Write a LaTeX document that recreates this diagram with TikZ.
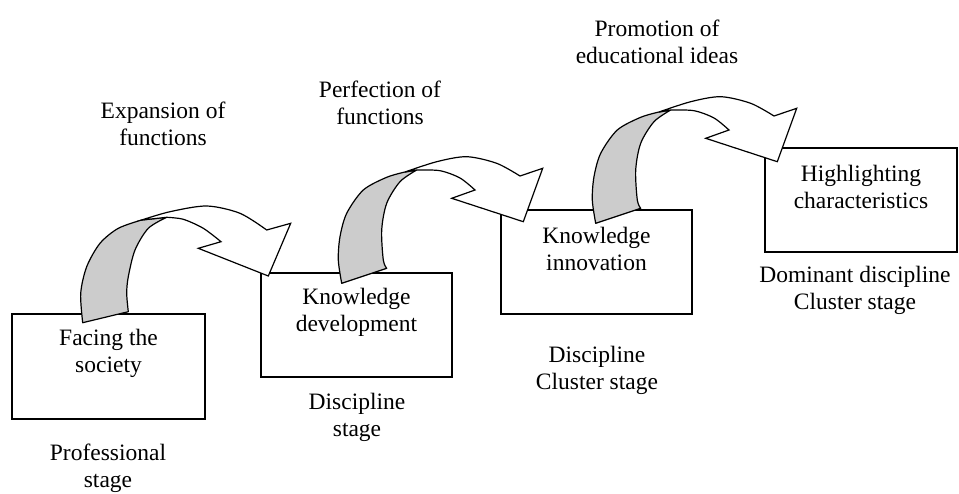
\documentclass[tikz,border=0pt]{standalone}
\usepackage{fontspec}
\setmainfont{Liberation Serif}
\usetikzlibrary{calc}
\definecolor{bandgrey}{RGB}{204,204,204}
\newcommand{\drawRibbonTwo}{%
  \filldraw[bandface]
    plot[smooth] coordinates {(341.7,283.3) (338.3,260) (340,236.7) (346.7,213.3) (363.3,190) (386.7,177.3) (405,172)}
    -- (416.7,170)
    -- plot[smooth] coordinates {(416.7,170) (400,181.7) (386.7,203.3) (381.7,230) (383.3,260) (386.7,268.3)}
    -- cycle;
  \filldraw[ribbonface]
    plot[smooth] coordinates {(405,172) (436.7,161.7) (466.7,156.7) (496.7,163.3) (520,176)}
    -- (542.7,168.3) -- (523.3,221.7) -- (451.7,198.3) -- (475,190)
    -- plot[smooth] coordinates {(475,190) (460,178) (440,170.7) (416.7,170)}
    -- cycle;
}
\begin{document}
\begin{tikzpicture}[x=1pt,y=-1pt,
  stagebox/.style={draw, line width=1.2pt, minimum width=#1, minimum height=104pt, inner sep=0pt},
  stagebox/.default=192pt,
  lbl/.style={font=\fontsize{23.5}{27}\selectfont, align=center, inner sep=0pt},
  bandface/.style={fill=bandgrey, draw=black, line width=1.2pt, line join=round},
  ribbonface/.style={fill=white, draw=black, line width=1.2pt, line join=miter}
]
\useasboundingbox (0,0) rectangle (959,493);

% boxes
\node[stagebox=193pt, minimum height=105pt] (b1) at (108.5,366.5) {};
\node[stagebox=191pt] (b2) at (356.5,325) {};
\node[stagebox=191pt] (b3) at (596.5,262) {};
\node[stagebox=192pt] (b4) at (861,200) {};

% texts in boxes
\node[lbl] (t1) at ($(b1.north)+(0,40)$) {Facing the\\society};
\node[lbl] (t2) at ($(b2.north)+(0,40)$) {Knowledge\\development};
\node[lbl] (t3) at ($(b3.north)+(0,40)$) {Knowledge\\innovation};
\node[lbl] (t4) at ($(b4.north)+(0,40)$) {Highlighting\\characteristics};

% stage labels
\node[lbl] (s1) at (108,468.5) {Professional\\stage};
\node[lbl] (s2) at (357,417.5) {Discipline\\stage};
\node[lbl] (s3) at (597,370.5) {Discipline\\Cluster stage};
\node[lbl] (s4) at (855,290.5) {Dominant discipline\\Cluster stage};

% transition labels
\node[lbl] (f1) at (163,123.5) {Expansion of\\functions};
\node[lbl] (f2) at (380,102.5) {Perfection of\\functions};
\node[lbl] (f3) at (657,41.5) {Promotion of\\educational ideas};

% arrow 1
\filldraw[bandface]
  plot[smooth] coordinates {(82.7,322.7) (80.7,293.3) (86.7,266.7) (100,243.3) (118.3,228.3) (141.7,220)}
  -- (166.7,217.3)
  -- plot[smooth] coordinates {(166.7,217.3) (148.3,228.3) (135,250) (128.3,276.7) (126.7,293.3) (128.3,311.7)}
  -- cycle;
\filldraw[ribbonface]
  plot[smooth] coordinates {(141.7,220) (170,211.7) (206.7,206) (240,213.3) (266.7,230)}
  -- (290.7,223.3) -- (268.3,276) -- (198.3,248.3) -- (221,241.7)
  -- plot[smooth] coordinates {(221,241.7) (203.3,228.3) (183.3,219.3) (166.7,217.3)}
  -- cycle;

% arrow 2
\drawRibbonTwo
% arrow 3
\begin{scope}[shift={(254,-60)}]
  \drawRibbonTwo
\end{scope}
\end{tikzpicture}
\end{document}
